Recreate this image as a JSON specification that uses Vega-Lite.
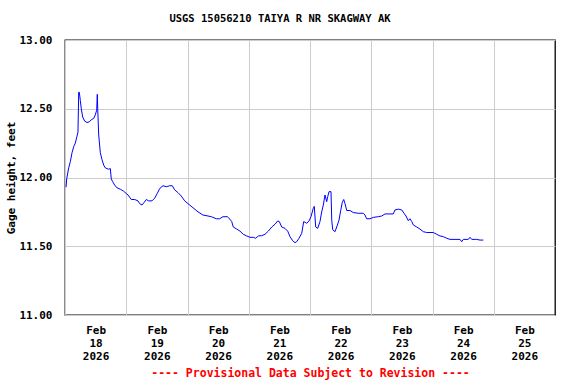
{
  "$schema": "https://vega.github.io/schema/vega-lite/v6.json",
  "width": 490,
  "height": 275,
  "autosize": {"type": "none"},
  "padding": {"left": 65, "top": 40, "right": 21, "bottom": 69},
  "background": "white",
  "title": {
    "text": "USGS 15056210 TAIYA R NR SKAGWAY AK",
    "font": "DejaVu Sans Mono",
    "fontWeight": "bold",
    "fontSize": 10.5,
    "color": "black",
    "anchor": "middle",
    "frame": "group",
    "dx": -30,
    "offset": 10
  },
  "config": {
    "view": {"stroke": "black", "strokeWidth": 1.3},
    "axis": {
      "labelFont": "DejaVu Sans Mono",
      "labelFontWeight": "bold",
      "labelFontSize": 11,
      "labelColor": "black",
      "titleFont": "DejaVu Sans Mono",
      "titleFontWeight": "bold",
      "titleFontSize": 11,
      "titleColor": "black",
      "gridColor": "#cccccc",
      "gridWidth": 1,
      "gridOpacity": 1,
      "domain": false,
      "ticks": false
    }
  },
  "data": {
    "values": [
      {"t": "2026-02-18T00:25", "v": 11.93},
      {"t": "2026-02-18T00:40", "v": 11.99},
      {"t": "2026-02-18T01:27", "v": 12.07},
      {"t": "2026-02-18T02:05", "v": 12.115},
      {"t": "2026-02-18T02:45", "v": 12.18},
      {"t": "2026-02-18T03:25", "v": 12.225},
      {"t": "2026-02-18T04:02", "v": 12.25},
      {"t": "2026-02-18T04:42", "v": 12.30},
      {"t": "2026-02-18T05:05", "v": 12.33},
      {"t": "2026-02-18T05:22", "v": 12.62},
      {"t": "2026-02-18T05:36", "v": 12.62},
      {"t": "2026-02-18T06:00", "v": 12.56},
      {"t": "2026-02-18T06:23", "v": 12.50},
      {"t": "2026-02-18T06:56", "v": 12.44},
      {"t": "2026-02-18T07:43", "v": 12.41},
      {"t": "2026-02-18T08:37", "v": 12.40},
      {"t": "2026-02-18T09:31", "v": 12.405},
      {"t": "2026-02-18T10:18", "v": 12.42},
      {"t": "2026-02-18T11:15", "v": 12.43},
      {"t": "2026-02-18T11:52", "v": 12.455},
      {"t": "2026-02-18T12:25", "v": 12.49},
      {"t": "2026-02-18T12:39", "v": 12.605},
      {"t": "2026-02-18T12:49", "v": 12.50},
      {"t": "2026-02-18T13:12", "v": 12.31},
      {"t": "2026-02-18T13:50", "v": 12.18},
      {"t": "2026-02-18T14:30", "v": 12.13},
      {"t": "2026-02-18T15:10", "v": 12.09},
      {"t": "2026-02-18T15:47", "v": 12.07},
      {"t": "2026-02-18T17:07", "v": 12.06},
      {"t": "2026-02-18T17:45", "v": 12.065},
      {"t": "2026-02-18T18:08", "v": 11.99},
      {"t": "2026-02-18T18:41", "v": 11.97},
      {"t": "2026-02-18T19:28", "v": 11.945},
      {"t": "2026-02-18T20:22", "v": 11.925},
      {"t": "2026-02-18T21:40", "v": 11.915},
      {"t": "2026-02-18T23:00", "v": 11.90},
      {"t": "2026-02-18T23:54", "v": 11.885},
      {"t": "2026-02-19T00:41", "v": 11.873},
      {"t": "2026-02-19T01:59", "v": 11.84},
      {"t": "2026-02-19T03:19", "v": 11.84},
      {"t": "2026-02-19T04:36", "v": 11.83},
      {"t": "2026-02-19T05:16", "v": 11.81},
      {"t": "2026-02-19T06:10", "v": 11.80},
      {"t": "2026-02-19T06:57", "v": 11.817},
      {"t": "2026-02-19T07:51", "v": 11.84},
      {"t": "2026-02-19T08:48", "v": 11.83},
      {"t": "2026-02-19T10:05", "v": 11.83},
      {"t": "2026-02-19T11:09", "v": 11.85},
      {"t": "2026-02-19T12:10", "v": 11.885},
      {"t": "2026-02-19T13:07", "v": 11.92},
      {"t": "2026-02-19T14:24", "v": 11.94},
      {"t": "2026-02-19T15:42", "v": 11.933},
      {"t": "2026-02-19T17:02", "v": 11.94},
      {"t": "2026-02-19T18:03", "v": 11.94},
      {"t": "2026-02-19T18:59", "v": 11.91},
      {"t": "2026-02-19T20:17", "v": 11.89},
      {"t": "2026-02-19T21:34", "v": 11.865},
      {"t": "2026-02-19T22:54", "v": 11.83},
      {"t": "2026-02-20T00:12", "v": 11.81},
      {"t": "2026-02-20T02:10", "v": 11.78},
      {"t": "2026-02-20T04:07", "v": 11.75},
      {"t": "2026-02-20T06:04", "v": 11.727},
      {"t": "2026-02-20T08:02", "v": 11.72},
      {"t": "2026-02-20T09:20", "v": 11.715},
      {"t": "2026-02-20T11:17", "v": 11.70},
      {"t": "2026-02-20T12:37", "v": 11.70},
      {"t": "2026-02-20T13:55", "v": 11.715},
      {"t": "2026-02-20T15:36", "v": 11.715},
      {"t": "2026-02-20T15:59", "v": 11.71},
      {"t": "2026-02-20T17:19", "v": 11.68},
      {"t": "2026-02-20T17:57", "v": 11.64},
      {"t": "2026-02-20T19:17", "v": 11.625},
      {"t": "2026-02-20T20:34", "v": 11.61},
      {"t": "2026-02-20T21:52", "v": 11.587},
      {"t": "2026-02-20T23:12", "v": 11.575},
      {"t": "2026-02-21T00:29", "v": 11.565},
      {"t": "2026-02-21T01:47", "v": 11.565},
      {"t": "2026-02-21T02:44", "v": 11.558},
      {"t": "2026-02-21T03:45", "v": 11.575},
      {"t": "2026-02-21T05:05", "v": 11.577},
      {"t": "2026-02-21T06:22", "v": 11.587},
      {"t": "2026-02-21T07:40", "v": 11.61},
      {"t": "2026-02-21T09:00", "v": 11.64},
      {"t": "2026-02-21T10:17", "v": 11.66},
      {"t": "2026-02-21T11:21", "v": 11.684},
      {"t": "2026-02-21T11:58", "v": 11.68},
      {"t": "2026-02-21T12:55", "v": 11.64},
      {"t": "2026-02-21T14:12", "v": 11.63},
      {"t": "2026-02-21T15:16", "v": 11.61},
      {"t": "2026-02-21T16:10", "v": 11.57},
      {"t": "2026-02-21T17:13", "v": 11.54},
      {"t": "2026-02-21T18:07", "v": 11.526},
      {"t": "2026-02-21T18:47", "v": 11.533},
      {"t": "2026-02-21T19:41", "v": 11.558},
      {"t": "2026-02-21T20:45", "v": 11.594},
      {"t": "2026-02-21T21:32", "v": 11.68},
      {"t": "2026-02-21T22:43", "v": 11.667},
      {"t": "2026-02-21T23:37", "v": 11.684},
      {"t": "2026-02-22T00:23", "v": 11.715},
      {"t": "2026-02-22T01:17", "v": 11.776},
      {"t": "2026-02-22T01:41", "v": 11.79},
      {"t": "2026-02-22T02:14", "v": 11.64},
      {"t": "2026-02-22T03:01", "v": 11.63},
      {"t": "2026-02-22T03:55", "v": 11.68},
      {"t": "2026-02-22T04:35", "v": 11.75},
      {"t": "2026-02-22T05:13", "v": 11.80},
      {"t": "2026-02-22T05:53", "v": 11.873},
      {"t": "2026-02-22T06:33", "v": 11.824},
      {"t": "2026-02-22T06:56", "v": 11.86},
      {"t": "2026-02-22T07:27", "v": 11.897},
      {"t": "2026-02-22T08:14", "v": 11.897},
      {"t": "2026-02-22T08:31", "v": 11.69},
      {"t": "2026-02-22T08:54", "v": 11.62},
      {"t": "2026-02-22T09:48", "v": 11.606},
      {"t": "2026-02-22T10:28", "v": 11.64},
      {"t": "2026-02-22T11:22", "v": 11.69},
      {"t": "2026-02-22T12:02", "v": 11.76},
      {"t": "2026-02-22T12:40", "v": 11.82},
      {"t": "2026-02-22T13:13", "v": 11.84},
      {"t": "2026-02-22T13:43", "v": 11.81},
      {"t": "2026-02-22T14:23", "v": 11.76},
      {"t": "2026-02-22T15:40", "v": 11.76},
      {"t": "2026-02-22T16:58", "v": 11.745},
      {"t": "2026-02-22T18:56", "v": 11.74},
      {"t": "2026-02-22T20:53", "v": 11.74},
      {"t": "2026-02-22T21:33", "v": 11.727},
      {"t": "2026-02-22T22:13", "v": 11.70},
      {"t": "2026-02-22T23:31", "v": 11.70},
      {"t": "2026-02-23T00:48", "v": 11.71},
      {"t": "2026-02-23T02:46", "v": 11.715},
      {"t": "2026-02-23T04:06", "v": 11.72},
      {"t": "2026-02-23T05:23", "v": 11.735},
      {"t": "2026-02-23T08:38", "v": 11.735},
      {"t": "2026-02-23T09:18", "v": 11.764},
      {"t": "2026-02-23T10:36", "v": 11.77},
      {"t": "2026-02-23T11:56", "v": 11.764},
      {"t": "2026-02-23T12:50", "v": 11.74},
      {"t": "2026-02-23T13:37", "v": 11.72},
      {"t": "2026-02-23T14:31", "v": 11.686},
      {"t": "2026-02-23T15:11", "v": 11.70},
      {"t": "2026-02-23T15:51", "v": 11.68},
      {"t": "2026-02-23T16:29", "v": 11.655},
      {"t": "2026-02-23T17:49", "v": 11.64},
      {"t": "2026-02-23T19:06", "v": 11.625},
      {"t": "2026-02-23T20:24", "v": 11.606},
      {"t": "2026-02-23T21:44", "v": 11.60},
      {"t": "2026-02-24T00:19", "v": 11.60},
      {"t": "2026-02-24T01:39", "v": 11.587},
      {"t": "2026-02-24T02:56", "v": 11.575},
      {"t": "2026-02-24T04:14", "v": 11.57},
      {"t": "2026-02-24T05:34", "v": 11.558},
      {"t": "2026-02-24T06:52", "v": 11.55},
      {"t": "2026-02-24T10:47", "v": 11.55},
      {"t": "2026-02-24T11:26", "v": 11.533},
      {"t": "2026-02-24T12:04", "v": 11.55},
      {"t": "2026-02-24T14:02", "v": 11.55},
      {"t": "2026-02-24T14:41", "v": 11.565},
      {"t": "2026-02-24T15:22", "v": 11.55},
      {"t": "2026-02-24T17:19", "v": 11.55},
      {"t": "2026-02-24T18:37", "v": 11.545},
      {"t": "2026-02-24T19:55", "v": 11.545}
    ]
  },
  "mark": {"type": "line", "color": "#0000ff", "strokeWidth": 1, "clip": true},
  "encoding": {
    "x": {
      "field": "t",
      "type": "temporal",
      "scale": {
        "domain": [
          {"year": 2026, "month": 2, "date": 18},
          {"year": 2026, "month": 2, "date": 26}
        ]
      },
      "axis": {
        "values": [
          {"year": 2026, "month": 2, "date": 18},
          {"year": 2026, "month": 2, "date": 19},
          {"year": 2026, "month": 2, "date": 20},
          {"year": 2026, "month": 2, "date": 21},
          {"year": 2026, "month": 2, "date": 22},
          {"year": 2026, "month": 2, "date": 23},
          {"year": 2026, "month": 2, "date": 24},
          {"year": 2026, "month": 2, "date": 25}
        ],
        "labelExpr": "split(timeFormat(datum.value, '%b|%d|%Y'), '|')",
        "labelOffset": 30.6,
        "labelAlign": "center",
        "labelBaseline": "top",
        "labelPadding": 9,
        "labelLineHeight": 13,
        "labelFlush": false,
        "labelOverlap": false,
        "grid": true,
        "title": "---- Provisional Data Subject to Revision ----",
        "titleColor": "#ff0000",
        "titleFontSize": 11.5,
        "titlePadding": 6
      }
    },
    "y": {
      "field": "v",
      "type": "quantitative",
      "scale": {"domain": [11, 13], "nice": false, "zero": false},
      "axis": {
        "values": [11, 11.5, 12, 12.5, 13],
        "format": ".2f",
        "grid": true,
        "labelPadding": 13,
        "title": "Gage height, feet",
        "titlePadding": 2
      }
    }
  }
}
